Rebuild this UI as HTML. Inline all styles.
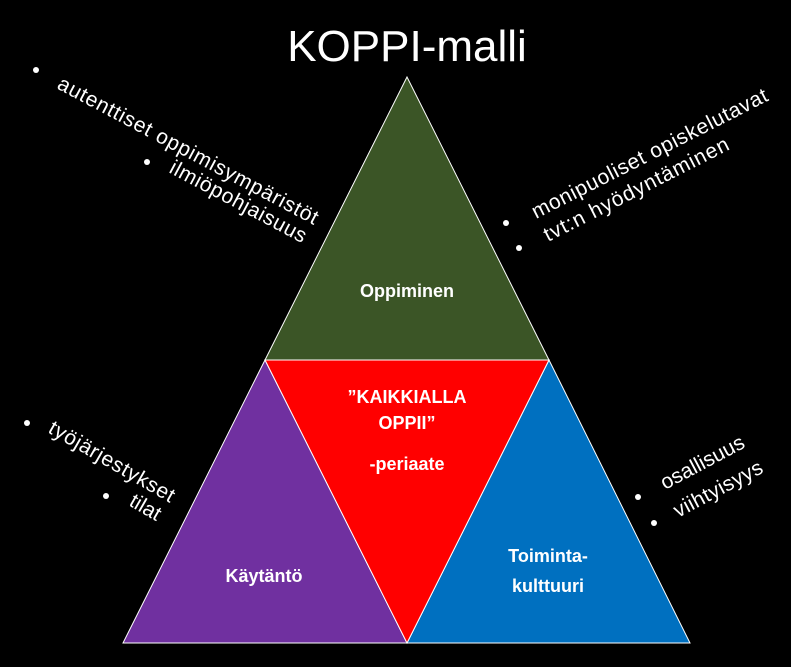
<!DOCTYPE html>
<html><head><meta charset="utf-8"><style>
html,body{margin:0;padding:0;background:#000;}
svg{display:block;}
text{font-family:"Liberation Sans",sans-serif;fill:#fff;}
.b{font-weight:bold;font-size:18px;}
.s{font-size:21px;}
</style></head><body>
<svg width="791" height="667" viewBox="0 0 791 667">
<rect width="791" height="667" fill="#000"/>
<text x="407" y="61" font-size="44" text-anchor="middle">KOPPI-malli</text>
<g stroke="#fff" stroke-width="1">
<polygon points="407,77 265,360 549,360" fill="#3b5526"/>
<polygon points="265,360 123,643 407,643" fill="#7030a0"/>
<polygon points="549,360 407,643 690,643" fill="#0070c0"/>
<polygon points="265,360 549,360 407,643" fill="#ff0000"/>
</g>
<text class="b" x="407" y="297" text-anchor="middle">Oppiminen</text>
<text class="b" x="407" y="403" text-anchor="middle">”KAIKKIALLA</text>
<text class="b" x="407" y="429" text-anchor="middle">OPPII”</text>
<text class="b" x="407" y="470" text-anchor="middle">-periaate</text>
<text class="b" x="264" y="582" text-anchor="middle">Käytäntö</text>
<text class="b" x="548" y="562" text-anchor="middle">Toiminta-</text>
<text class="b" x="548" y="592" text-anchor="middle">kulttuuri</text>
<circle cx="36" cy="70" r="3" fill="#fff"/>
<text class="s" textLength="292" transform="translate(56,88) rotate(28)">autenttiset oppimisympäristöt</text>
<circle cx="147" cy="162" r="3" fill="#fff"/>
<text class="s" textLength="152" transform="translate(168,172) rotate(28)">ilmiöpohjaisuus</text>
<circle cx="506" cy="223" r="3" fill="#fff"/>
<text class="s" textLength="262" transform="translate(536,219) rotate(-27)">monipuoliset opiskelutavat</text>
<circle cx="519" cy="248" r="3" fill="#fff"/>
<text class="s" textLength="205" transform="translate(548,242) rotate(-27)">tvt:n hyödyntäminen</text>
<circle cx="27" cy="423" r="3" fill="#fff"/>
<text class="s" textLength="142" transform="translate(47,432) rotate(30)">työjärjestykset</text>
<circle cx="106" cy="496" r="3" fill="#fff"/>
<text class="s" transform="translate(128,505) rotate(30)">tilat</text>
<circle cx="638" cy="497" r="3" fill="#fff"/>
<text class="s" textLength="92" transform="translate(665,490) rotate(-28)">osallisuus</text>
<circle cx="654" cy="523" r="3" fill="#fff"/>
<text class="s" textLength="98" transform="translate(678,518) rotate(-28)">viihtyisyys</text>
</svg>
</body></html>
